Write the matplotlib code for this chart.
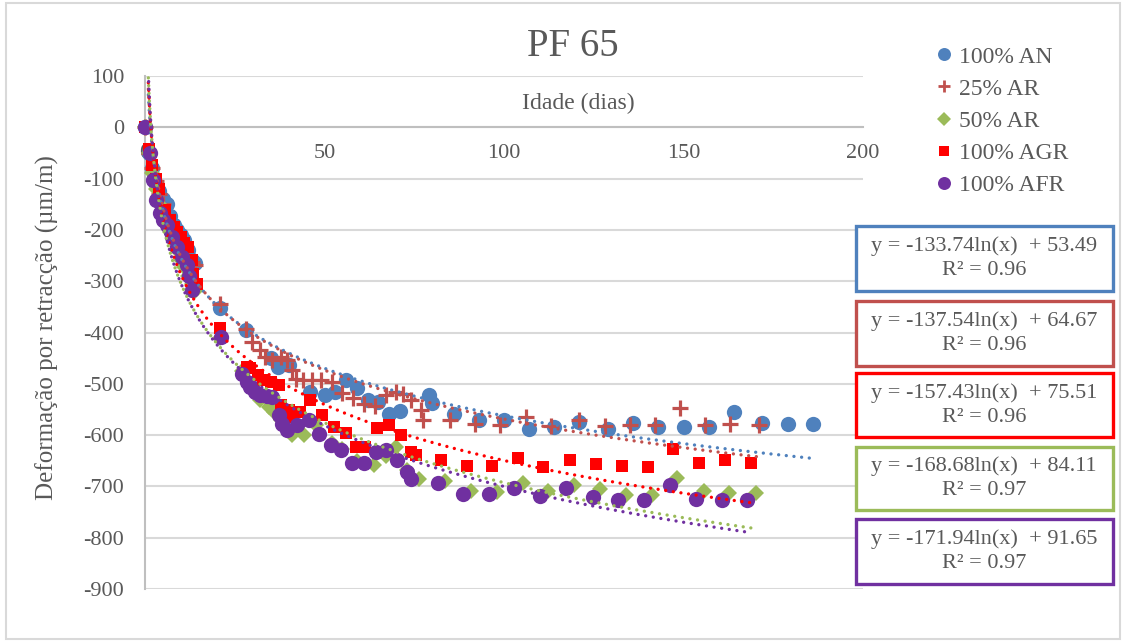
import numpy as np
import matplotlib
matplotlib.use("Agg")
import matplotlib.pyplot as plt
from matplotlib.patches import Rectangle
from matplotlib.lines import Line2D

plt.rcParams['font.family'] = ['Liberation Serif', 'DejaVu Serif']
plt.rcParams['axes.unicode_minus'] = False

GRAY = '#595959'

# --- data ---
labels = ['100% AN', '25% AR', '50% AR', '100% AGR', '100% AFR']
colors = ['#4f81bd', '#c0504d', '#9bbb59', '#ff0000', '#7030a0']
markers = ['o', '+', 'D', 's', 'o']

an_x = [0, 1, 2, 3, 4, 5, 6, 7, 8, 9, 10, 11, 12, 13, 14, 21, 28, 35, 37, 40, 46, 50, 53, 56,
        59, 62, 65, 68, 71, 79, 80, 86, 93, 100, 107, 114, 121, 129, 136, 143, 150, 157, 164,
        172, 179, 186]
an_y = [0, -50, -80, -110, -125, -140, -150, -172, -190, -200, -210, -220, -240, -258, -265,
        -353, -395, -450, -467, -464, -516, -522, -516, -492, -509, -531, -535, -558, -553,
        -522, -537, -558, -570, -571, -589, -584, -574, -589, -576, -584, -584, -584, -555,
        -576, -579, -579]

ar25_x = [0, 1, 2, 3, 4, 5, 6, 7, 8, 9, 10, 11, 12, 13, 14, 21, 28, 29.7, 32, 33.5, 35.3, 38,
          39.5, 41, 42, 44, 46.5, 49, 52, 55, 58, 61, 64, 67, 70, 72, 74, 77, 77.3, 85, 92, 99,
          106, 113, 121, 128, 135, 142, 149, 156, 163, 171]
ar25_y = [0, -50, -80, -105, -130, -150, -170, -185, -200, -215, -225, -240, -250, -262, -268,
          -345, -393, -418, -435, -448, -454, -448, -454, -474, -490, -493, -493, -492, -496,
          -518, -527, -540, -544, -522, -516, -519, -531, -552, -571, -570, -579, -581, -565,
          -583, -570, -583, -581, -581, -548, -581, -578, -581]

ar50_x = [0, 1, 2, 3, 4, 5, 6, 7, 8, 9, 10, 11, 12, 13, 14, 21, 27, 29, 32, 34.5, 36, 38,
          40.9, 44.2, 47.5, 52, 55, 59, 63.8, 67, 69.8, 73, 76.4, 83.5, 90.8, 98, 105.3, 112.3,
          119.4, 126.7, 134, 141.2, 148.3, 155.6, 162.6, 170.1]
ar50_y = [0, -50, -90, -120, -150, -168, -185, -205, -222, -240, -258, -272, -290, -305, -320,
          -410, -475, -505, -532, -546, -555, -570, -600, -600, -580, -615, -628, -650, -659,
          -640, -623, -668, -686, -689, -708, -711, -693, -708, -698, -706, -717, -717, -683,
          -708, -712, -712]

agr_x = [0, 1, 2, 3, 4, 5.5, 7, 8, 9, 10, 11, 12, 13, 13.5, 14.5, 21, 28.3, 29.3, 31.6, 33,
         35, 37.2, 38, 40, 40.5, 43.3, 46, 49.3, 52.6, 56, 58.7, 61.4, 64.7, 68, 71.2, 74, 75.5,
         82.4, 89.7, 96.7, 104, 111, 118.3, 125.5, 132.8, 140, 147.2, 154.4, 161.5, 168.7]
agr_y = [0, -42, -74, -100, -120, -162, -180, -194, -205, -214, -225, -233, -259, -285, -305,
         -392, -467, -470, -483, -493, -496, -503, -542, -552, -565, -555, -532, -561, -584,
         -596, -623, -623, -587, -581, -600, -633, -639, -648, -661, -661, -644, -663, -648,
         -657, -661, -663, -628, -654, -649, -654]

afr_x = [0, 1.5, 2.2, 3.2, 4.1, 5, 6, 7.4, 8.8, 10.2, 11.6, 12.3, 13, 21.3, 26.9, 28.3, 29.3,
         30.7, 32.1, 33.9, 35.3, 37.2, 38.1, 39.5, 42.3, 45.6, 48.4, 51.7, 54.7, 57.7, 61, 64.3,
         67, 70.3, 73.1, 74, 81.5, 88.5, 95.7, 102.9, 109.9, 117.4, 124.7, 131.8, 139.1, 146.3,
         153.6, 160.6, 167.7]
afr_y = [0, -51, -103, -142, -168, -180, -191, -214, -233, -253, -269, -290, -318, -409, -480,
         -496, -506, -516, -522, -524, -526, -561, -578, -591, -581, -571, -597, -620, -630,
         -654, -654, -633, -630, -649, -672, -685, -693, -714, -714, -704, -719, -704, -721,
         -726, -726, -698, -724, -726, -726]

xs = [an_x, ar25_x, ar50_x, agr_x, afr_x]
ys = [an_y, ar25_y, ar50_y, agr_y, afr_y]

# logarithmic trendlines y = a ln(x) + b
slopes = [-133.74, -137.54, -168.68, -157.43, -171.94]
intercepts = [53.49, 64.67, 84.11, 75.51, 91.65]
r2 = [0.96, 0.96, 0.97, 0.96, 0.97]
box_order = [0, 1, 3, 2, 4]

W, H = 1126, 642


def fx(px):
    return px / W


def fy(py):
    return 1 - py / H


fig = plt.figure(figsize=(W / 100, H / 100), dpi=100)
ax = fig.add_axes([fx(145), fy(589), (863 - 145) / W, (589 - 76) / H])

ms = {'o': 11, '+': 11, 'D': 8.5, 's': 9}
for i in range(5):
    m = markers[i]
    if m == '+':
        ax.plot(xs[i], ys[i], ls='none', marker='+', ms=ms[m], mew=2.3, color=colors[i],
                zorder=3, clip_on=False)
    else:
        ax.plot(xs[i], ys[i], ls='none', marker=m, ms=ms[m], mew=0, color=colors[i],
                zorder=3, clip_on=False)

for i in range(5):
    t = np.linspace(0.93, max(xs[i]), 600)
    ax.plot(t, slopes[i] * np.log(t) + intercepts[i], color=colors[i], lw=2.4,
            ls=(0, (0.01, 2.3)), dash_capstyle='round', zorder=4)

ax.set_xlim(0, 200)
ax.set_ylim(-900, 100)
ax.set_xticks(np.arange(0, 201, 50))
ax.set_yticks(np.arange(-900, 101, 100))
ax.yaxis.grid(True, color='#d9d9d9', lw=1.5)
ax.set_axisbelow(True)
for s in ['top', 'right']:
    ax.spines[s].set_visible(False)
ax.spines['bottom'].set_position(('data', 0))
for s in ['left', 'bottom']:
    ax.spines[s].set_color('#bfbfbf')
    ax.spines[s].set_linewidth(1.5)
ax.tick_params(axis='both', length=0, labelsize=16, labelcolor=GRAY)
ax.tick_params(axis='y', pad=15)
ax.tick_params(axis='x', pad=12)

fig.text(fx(573), fy(47), 'PF 65', fontsize=28, color=GRAY, ha='center', va='center')
fig.text(fx(578), fy(103), 'Idade (dias)', fontsize=17, color=GRAY, ha='center', va='center')
fig.text(fx(47), fy(328), 'Deformação por retracção (µm/m)', fontsize=18, color=GRAY,
         ha='center', va='center', rotation=90)

handles = []
for i in range(5):
    m = markers[i]
    handles.append(Line2D([], [], ls='none', marker=m, ms=ms[m] * 0.85, color=colors[i],
                          mew=2.0 if m == '+' else 0))
fig.legend(handles, labels, loc='upper left', bbox_to_anchor=(fx(935), fy(46)),
           frameon=False, fontsize=17, labelcolor=GRAY, handlelength=0.8,
           handletextpad=0.2, labelspacing=0.45, borderaxespad=0, borderpad=0)

box_y = [(226, 291), (301, 366), (373, 437), (447, 510), (519, 584)]
for k, i in enumerate(box_order):
    y0, y1 = box_y[k]
    fig.add_artist(Rectangle((fx(856), fy(y1)), (1113 - 856) / W, (y1 - y0) / H,
                             transform=fig.transFigure, facecolor='white',
                             edgecolor=colors[i], lw=2.4))
    yc = (y0 + y1) / 2
    fig.text(fx(984), fy(yc - 12), f'y = {slopes[i]:.2f}ln(x)  + {intercepts[i]:.2f}',
             fontsize=16, color=GRAY, ha='center', va='center')
    fig.text(fx(984), fy(yc + 12), f'R² = {r2[i]:.2f}', fontsize=16, color=GRAY,
             ha='center', va='center')

fig.add_artist(Rectangle((fx(6), fy(639)), (1120 - 6) / W, (639 - 3) / H,
                         transform=fig.transFigure, fill=False, edgecolor='#d9d9d9', lw=1.5))

fig.savefig('out.png', dpi=100)
